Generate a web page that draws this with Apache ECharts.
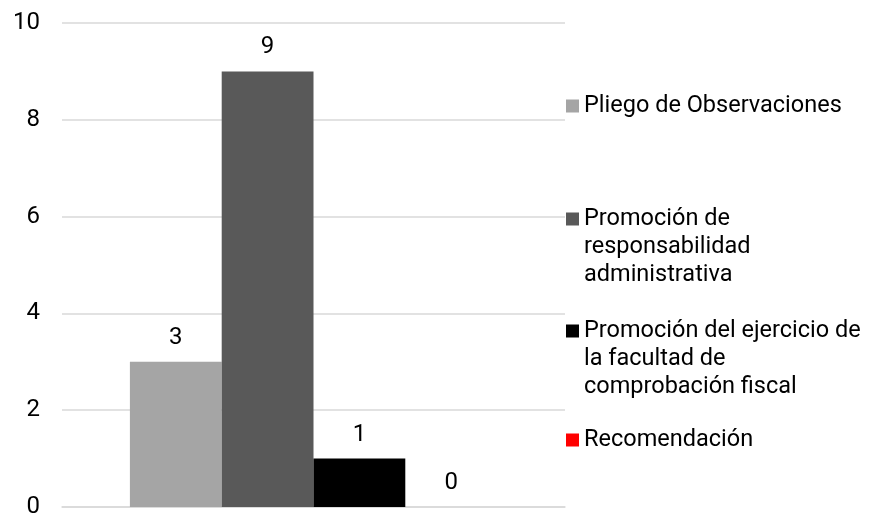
<!DOCTYPE html>
<html>
<head>
<meta charset="utf-8">
<script src="https://cdn.jsdelivr.net/npm/echarts@6/dist/echarts.min.js"></script>
<style>html,body{margin:0;padding:0;background:#fff;}#c{width:871px;height:519px;}</style>
</head>
<body>
<div id="c"></div>
<script>
const categories = [''];
const seriesNames = ['Pliego de Observaciones', 'Promoción de responsabilidad administrativa', 'Promoción del ejercicio de la facultad de comprobación fiscal', 'Recomendación'];
const legendLabels = ['Pliego de Observaciones', 'Promoción de\nresponsabilidad\nadministrativa', 'Promoción del ejercicio de\nla facultad de\ncomprobación fiscal', 'Recomendación'];
const values = [3, 9, 1, 0];
const colors = ['#a5a5a5', '#595959', '#000000', '#ff0000'];
const legendCenters = [106, 219, 331, 440];

const FONT = 'Roboto';
const FS = 23.5;
const AXFS = 24;
const LH = 28;

const chart = echarts.init(document.getElementById('c'), null, {renderer: 'canvas'});

const series = seriesNames.map((n, i) => ({
  name: n,
  type: 'bar',
  data: [values[i]],
  itemStyle: {color: colors[i]},
  barGap: '0%',
  barCategoryGap: '27%',
  label: {show: true, position: 'top', distance: 12, color: '#000', fontFamily: FONT, fontSize: AXFS},
  emphasis: {disabled: true}
}));

const legends = seriesNames.map((n, i) => {
  const lines = legendLabels[i].split('\n').length;
  const pad = '\u200b\n'.repeat(lines - 1);
  return {
    data: [n],
    orient: 'vertical',
    left: 566,
    top: legendCenters[i] - (2 * lines - 1) * LH / 2,
    padding: 0,
    icon: 'rect',
    itemWidth: 13,
    itemHeight: 13,
    selectedMode: false,
    formatter: () => pad + legendLabels[i],
    textStyle: {fontFamily: FONT, fontSize: FS, color: '#000', lineHeight: LH}
  };
});

chart.setOption({
  animation: false,
  color: colors,
  grid: {left: 62, right: 306, top: 23, bottom: 10, containLabel: false},
  legend: legends,
  xAxis: {
    type: 'category',
    data: categories,
    axisLine: {show: true, lineStyle: {color: '#d9d9d9', width: 1.5}},
    axisTick: {show: false},
    axisLabel: {show: false}
  },
  yAxis: {
    type: 'value',
    min: 0,
    max: 10,
    interval: 2,
    axisLine: {show: false},
    axisTick: {show: false},
    splitLine: {lineStyle: {color: '#d9d9d9', width: 1.5}},
    axisLabel: {color: '#000', fontFamily: FONT, fontSize: AXFS, margin: 22}
  },
  series: series
});
</script>
</body>
</html>
